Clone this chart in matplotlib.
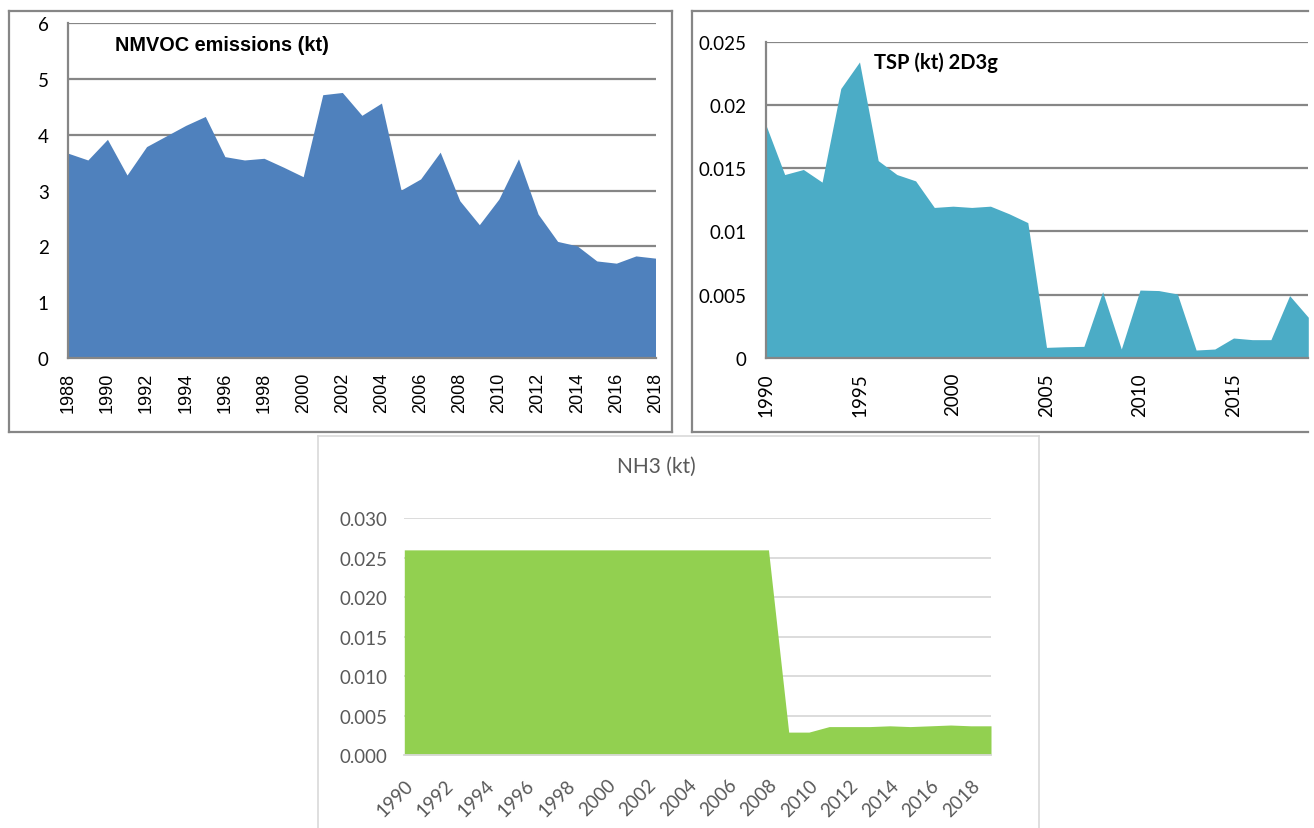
import matplotlib.pyplot as plt
from matplotlib.lines import Line2D

# NMVOC emissions (kt), 1988-2018
nmvoc_years = list(range(1988, 2019))
nmvoc = [3.67, 3.55, 3.92, 3.28, 3.79, 3.98, 4.17, 4.33, 3.61, 3.55,
         3.58, 3.42, 3.25, 4.72, 4.76, 4.35, 4.57, 3.01, 3.21, 3.69,
         2.82, 2.39, 2.85, 3.57, 2.58, 2.09, 2.01, 1.74, 1.70, 1.83,
         1.79]

# TSP (kt) 2D3g, 1990-2019
tsp_years = list(range(1990, 2020))
tsp = [0.0184, 0.0145, 0.0149, 0.0139, 0.0213, 0.0234, 0.0156, 0.0145,
       0.0140, 0.0119, 0.0120, 0.0119, 0.0120, 0.0114, 0.0107, 0.00084,
       0.00089, 0.00092, 0.00524, 0.00071, 0.00537, 0.00533, 0.00506,
       0.00063, 0.00071, 0.00158, 0.00145, 0.00145, 0.00493, 0.00322]

# NH3 (kt), 1990-2019
nh3_years = list(range(1990, 2020))
nh3 = [0.026] * 19 + [0.0029, 0.0029, 0.0036, 0.0036, 0.0036, 0.0037,
                      0.0036, 0.0037, 0.0038, 0.0037, 0.0037]

W, H = 1314, 829
fig = plt.figure(figsize=(W / 100, H / 100), dpi=100)

def add_ax(x0, y0, x1, y1):
    return fig.add_axes([x0 / W, 1 - y1 / H, (x1 - x0) / W, (y1 - y0) / H])

def fig_line(x0, y0, x1, y1, color, lw):
    fig.add_artist(Line2D([x0 / W, x1 / W], [1 - y0 / H, 1 - y1 / H],
                          transform=fig.transFigure, color=color, lw=lw))

arial = ['Liberation Sans', 'DejaVu Sans']
calib = ['Lato', 'DejaVu Sans']
grid_c = '#868686'

# panel frames
fig_line(9, 12, 672, 12, grid_c, 1.6)
fig_line(9, 433, 672, 433, grid_c, 1.6)
fig_line(9, 12, 9, 433, grid_c, 1.6)
fig_line(672, 12, 672, 433, grid_c, 1.6)
fig_line(692, 12, 1308, 12, grid_c, 1.6)
fig_line(692, 433, 1308, 433, grid_c, 1.6)
fig_line(692, 12, 692, 433, grid_c, 1.6)
fig_line(318, 437, 1039, 437, '#d9d9d9', 1.2)
fig_line(318, 437, 318, 829, '#d9d9d9', 1.2)
fig_line(1039, 437, 1039, 829, '#d9d9d9', 1.2)

# ---- NMVOC ----
ax1 = add_ax(68.3, 24.3, 655.5, 359)
ax1.fill_between(nmvoc_years, nmvoc, color='#4F81BD', lw=0, zorder=2)
ax1.set_xlim(1988, 2018)
ax1.set_ylim(0, 6)
ax1.set_yticks(range(0, 7))
ax1.set_xticks(range(1988, 2019, 2))
ax1.set_xticklabels([str(y) for y in range(1988, 2019, 2)], rotation=90,
                    family=arial, fontsize=13)
ax1.set_yticklabels([str(v) for v in range(0, 7)], family=calib, fontsize=13.5)
ax1.tick_params(axis='both', length=0)
ax1.tick_params(axis='y', pad=14)
ax1.tick_params(axis='x', pad=10)
ax1.yaxis.grid(True, color=grid_c, lw=1.6, zorder=1)
ax1.set_axisbelow(True)
for s in ['top', 'right']:
    ax1.spines[s].set_visible(False)
for s in ['left', 'bottom']:
    ax1.spines[s].set_color(grid_c)
    ax1.spines[s].set_linewidth(1.6)
ax1.spines['bottom'].set_zorder(3)
ax1.text(0.0795, 0.938, 'NMVOC emissions (kt)', transform=ax1.transAxes,
         ha='left', va='center', family=arial, fontweight='bold', fontsize=14.3)

# ---- TSP ----
ax2 = add_ax(766, 42.7, 1308.3, 359)
ax2.fill_between(tsp_years, tsp, color='#4BACC6', lw=0, zorder=2)
ax2.set_xlim(1990, 2019)
ax2.set_ylim(0, 0.025)
tsp_yt = [0, 0.005, 0.01, 0.015, 0.02, 0.025]
ax2.set_yticks(tsp_yt)
ax2.set_yticklabels(['0', '0.005', '0.01', '0.015', '0.02', '0.025'],
                    family=calib, fontsize=13.5)
ax2.set_xticks(range(1990, 2020, 5))
ax2.set_xticklabels([str(y) for y in range(1990, 2020, 5)], rotation=90,
                    family=calib, fontsize=13.5)
ax2.tick_params(axis='both', length=0)
ax2.tick_params(axis='y', pad=14)
ax2.tick_params(axis='x', pad=10)
ax2.yaxis.grid(True, color=grid_c, lw=1.6, zorder=1)
ax2.set_axisbelow(True)
for s in ['top', 'right']:
    ax2.spines[s].set_visible(False)
for s in ['left', 'bottom']:
    ax2.spines[s].set_color(grid_c)
    ax2.spines[s].set_linewidth(1.6)
ax2.spines['bottom'].set_zorder(3)
ax2.text(0.199, 0.936, 'TSP (kt) 2D3g', transform=ax2.transAxes,
         ha='left', va='center', family=calib, fontweight='bold', fontsize=14.5)

# ---- NH3 ----
ax3 = add_ax(404.3, 519.3, 991, 756)
ax3.fill_between(nh3_years, nh3, color='#92D050', lw=0, zorder=2)
ax3.set_xlim(1990, 2019)
ax3.set_ylim(0, 0.03)
nh3_yt = [0, 0.005, 0.01, 0.015, 0.02, 0.025, 0.03]
ax3.set_yticks(nh3_yt)
ax3.set_yticklabels([f'{v:.3f}' for v in nh3_yt], family=calib, fontsize=13.5,
                    color='#595959')
ax3.set_xticks(range(1990, 2019, 2))
ax3.set_xticklabels([str(y) for y in range(1990, 2019, 2)], rotation=45,
                    ha='right', va='top', rotation_mode='anchor',
                    family=calib, fontsize=13.5, color='#595959')
ax3.tick_params(axis='both', length=0)
ax3.tick_params(axis='y', pad=12)
ax3.tick_params(axis='x', pad=15)
ax3.yaxis.grid(True, color='#d9d9d9', lw=1.3, zorder=1)
ax3.set_axisbelow(True)
for s in ['top', 'right', 'left']:
    ax3.spines[s].set_visible(False)
ax3.spines['bottom'].set_color('#d9d9d9')
ax3.spines['bottom'].set_linewidth(1.3)
fig.text(656 / W, 1 - 466.7 / H, 'NH3 (kt)', ha='center', va='center',
         family=calib, fontsize=15, color='#595959')

fig.savefig('out.png', dpi=100)
